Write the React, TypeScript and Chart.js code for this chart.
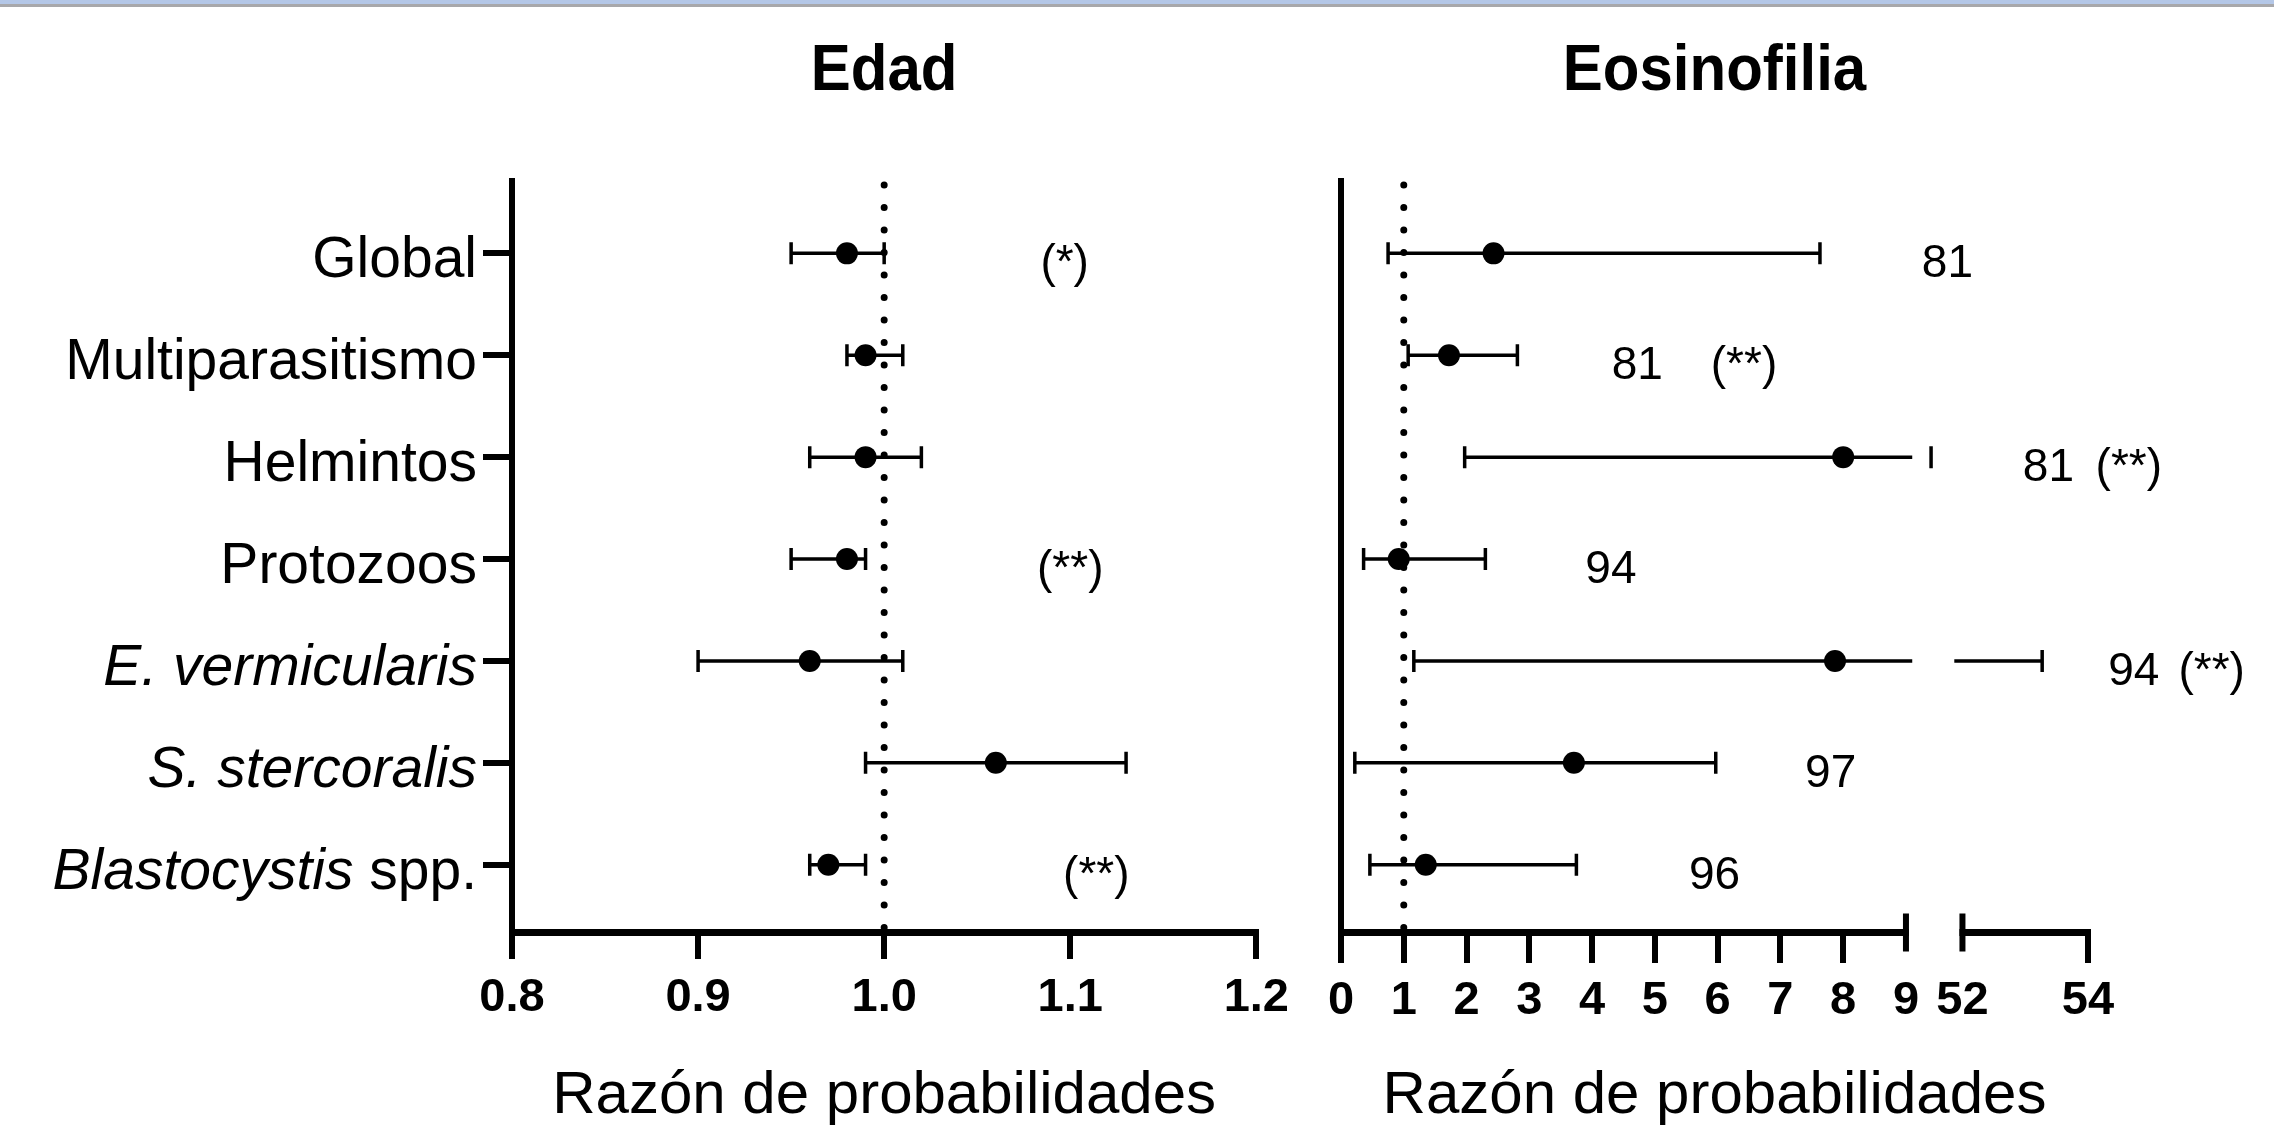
import React, { useEffect, useRef } from 'react';
import { Chart, registerables } from 'chart.js';

Chart.register(...registerables);

const FONT = "'Liberation Sans', Arial, Helvetica, sans-serif";

// ---------- data ----------
const categories = [
  'Global',
  'Multiparasitismo',
  'Helmintos',
  'Protozoos',
  'E. vermicularis',
  'S. stercoralis',
  'Blastocystis spp.',
];
// italic leading part of each category label
const italicParts = ['', '', '', '', 'E. vermicularis', 'S. stercoralis', 'Blastocystis'];

// Panel 1: Edad
const edadTitle = 'Edad';
const edadTicks = [0.8, 0.9, 1.0, 1.1, 1.2];
const edadOR = [0.98, 0.99, 0.99, 0.98, 0.96, 1.06, 0.97];
const edadLo = [0.95, 0.98, 0.96, 0.95, 0.9, 0.99, 0.96];
const edadHi = [1.0, 1.01, 1.02, 0.99, 1.01, 1.13, 0.99];
const edadSig = ['(*)', '', '', '(**)', '', '', '(**)'];
const edadSigAt = [1.097, 0, 0, 1.1, 0, 0, 1.114];

// Panel 2: Eosinofilia
const eosTitle = 'Eosinofilia';
const eosTicks = [0, 1, 2, 3, 4, 5, 6, 7, 8, 9, 52, 54];
const eosOR = [2.43, 1.72, 8.0, 0.92, 7.87, 3.71, 1.35];
const eosLo = [0.75, 1.07, 1.97, 0.36, 1.16, 0.22, 0.46];
const eosHi = [7.63, 2.81, 9.4, 2.3, 53.27, 5.97, 3.75];
const eosN = ['81', '81', '81', '94', '94', '97', '96'];
const eosNAt = [9.66, 4.72, 11.27, 4.3, 12.63, 7.8, 5.95];
const eosSig = ['', '(**)', '(**)', '', '(**)', '', ''];
const eosSigAt = [0, 6.42, 12.55, 0, 13.87, 0, 0];

const xTitle = 'Razón de probabilidades';

// axis break (9 ... 52)
const BREAK_FROM = 9;
const BREAK_TO = 52;
const BREAK_SHIFT = 42.1;
const GAP = [9.1, 9.77];
const toAxis = (v: number) => (v >= BREAK_TO ? v - BREAK_SHIFT : v);

const Y_MIN = -0.71;
const Y_MAX = 6.66;

// ---------- plugins ----------
function refLinePlugin(xVal: number) {
  return {
    id: 'refLine',
    beforeDatasetsDraw(chart: any) {
      const { ctx, chartArea, scales } = chart;
      const x = scales.x.getPixelForValue(xVal);
      ctx.save();
      ctx.strokeStyle = '#000';
      ctx.lineWidth = 7;
      ctx.lineCap = 'round';
      ctx.setLineDash([0.001, 22.5]);
      ctx.beginPath();
      ctx.moveTo(x, chartArea.top + 4);
      ctx.lineTo(x, chartArea.bottom);
      ctx.stroke();
      ctx.restore();
    },
  };
}

function errorBarPlugin(lo: number[], hi: number[], gap: number[] | null) {
  return {
    id: 'errorBars',
    beforeDatasetsDraw(chart: any) {
      const { ctx, scales } = chart;
      const xs = scales.x;
      const ys = scales.y;
      ctx.save();
      ctx.strokeStyle = '#000';
      ctx.lineWidth = 3.5;
      lo.forEach((l, i) => {
        const a = toAxis(l);
        const b = toAxis(hi[i]);
        const y = ys.getPixelForValue(i);
        let segs: number[][] = [[a, b]];
        if (gap && b > gap[0]) {
          segs = [[a, Math.min(b, gap[0])]];
          if (b > gap[1]) segs.push([Math.max(a, gap[1]), b]);
        }
        ctx.beginPath();
        segs.forEach(([s, e]) => {
          ctx.moveTo(xs.getPixelForValue(s), y);
          ctx.lineTo(xs.getPixelForValue(e), y);
        });
        [a, b].forEach((v) => {
          const px = xs.getPixelForValue(v);
          ctx.moveTo(px, y - 11);
          ctx.lineTo(px, y + 11);
        });
        ctx.stroke();
      });
      ctx.restore();
    },
  };
}

function notesPlugin(groups: { texts: string[]; at: number[] }[]) {
  return {
    id: 'notes',
    afterDatasetsDraw(chart: any) {
      const { ctx, scales } = chart;
      ctx.save();
      ctx.fillStyle = '#000';
      ctx.font = `46px ${FONT}`;
      ctx.textAlign = 'center';
      ctx.textBaseline = 'alphabetic';
      groups.forEach((g) => {
        g.texts.forEach((t, i) => {
          if (!t) return;
          const x = scales.x.getPixelForValue(g.at[i]);
          const y = scales.y.getPixelForValue(i) + 24;
          ctx.fillText(t, x, y);
        });
      });
      ctx.restore();
    },
  };
}

function titlePlugin(text: string) {
  return {
    id: 'panelTitle',
    afterDraw(chart: any) {
      const { ctx, chartArea } = chart;
      ctx.save();
      ctx.fillStyle = '#000';
      ctx.font = `bold 60px ${FONT}`;
      ctx.textAlign = 'center';
      ctx.textBaseline = 'alphabetic';
      ctx.translate((chartArea.left + chartArea.right) / 2, 90);
      ctx.scale(1, 1.08);
      ctx.fillText(text, 0, 0);
      ctx.restore();
    },
  };
}

const categoryLabelPlugin = {
  id: 'categoryLabels',
  afterDraw(chart: any) {
    const { ctx, chartArea, scales } = chart;
    const xRight = chartArea.left - 35;
    ctx.save();
    ctx.fillStyle = '#000';
    ctx.textAlign = 'right';
    ctx.textBaseline = 'alphabetic';
    categories.forEach((c, i) => {
      const y = scales.y.getPixelForValue(i) + 24;
      const it = italicParts[i];
      const rest = c.slice(it.length);
      ctx.font = `57px ${FONT}`;
      let w = 0;
      if (rest) {
        ctx.fillText(rest, xRight, y);
        w = ctx.measureText(rest).width;
      }
      if (it) {
        ctx.font = `italic 57px ${FONT}`;
        ctx.fillText(it, xRight - w, y);
      }
    });
    ctx.restore();
  },
};

const brokenAxisPlugin = {
  id: 'brokenAxis',
  afterDraw(chart: any) {
    const { ctx, chartArea, scales } = chart;
    const xs = scales.x;
    const y = chartArea.bottom + 0.5;
    const p9 = xs.getPixelForValue(BREAK_FROM);
    const p52 = xs.getPixelForValue(toAxis(BREAK_TO));
    const pEnd = xs.getPixelForValue(toAxis(eosTicks[eosTicks.length - 1]));
    ctx.save();
    ctx.strokeStyle = '#000';
    ctx.lineWidth = 7;
    ctx.beginPath();
    ctx.moveTo(chartArea.left - 3, y);
    ctx.lineTo(p9 + 3, y);
    ctx.moveTo(p52 - 3, y);
    ctx.lineTo(pEnd + 3, y);
    ctx.stroke();
    ctx.lineWidth = 6;
    ctx.beginPath();
    ctx.moveTo(p9, y - 19);
    ctx.lineTo(p9, y + 19);
    ctx.moveTo(p52, y - 19);
    ctx.lineTo(p52, y + 19);
    ctx.stroke();
    ctx.restore();
  },
};

// ---------- charts ----------
function makeEdad(canvas: HTMLCanvasElement) {
  return new Chart(canvas, {
    type: 'scatter',
    data: {
      datasets: [
        {
          data: edadOR.map((v, i) => ({ x: v, y: i })),
          pointRadius: 11,
          pointHoverRadius: 11,
          pointBorderWidth: 0,
          backgroundColor: '#000',
          borderColor: '#000',
        },
      ],
    },
    options: {
      animation: false,
      responsive: false,
      devicePixelRatio: 1,
      events: [],
      layout: { padding: { top: 181, left: 0, right: 42, bottom: 0 } },
      plugins: { legend: { display: false }, tooltip: { enabled: false }, title: { display: false } },
      scales: {
        x: {
          type: 'linear',
          position: 'bottom',
          min: edadTicks[0],
          max: edadTicks[edadTicks.length - 1],
          afterBuildTicks: (s: any) => {
            s.ticks = edadTicks.map((v) => ({ value: v }));
          },
          afterFit: (s: any) => {
            s.height = 195;
          },
          ticks: {
            autoSkip: false,
            maxRotation: 0,
            minRotation: 0,
            padding: 11,
            color: '#000',
            font: { family: FONT, size: 47, weight: 'bold' },
            callback: (v: any) => Number(v).toFixed(1),
          },
          grid: { display: true, drawOnChartArea: false, drawTicks: true, tickLength: 27, lineWidth: 6, color: '#000' },
          border: { display: true, width: 7, color: '#000' },
          title: {
            display: true,
            text: xTitle,
            color: '#000',
            font: { family: FONT, size: 60, lineHeight: 1 },
            padding: { top: 0, bottom: 1 },
          },
        },
        y: {
          type: 'linear',
          reverse: true,
          min: Y_MIN,
          max: Y_MAX,
          afterBuildTicks: (s: any) => {
            s.ticks = categories.map((_, i) => ({ value: i }));
          },
          afterFit: (s: any) => {
            s.width = 512;
          },
          ticks: { display: false },
          grid: { display: true, drawOnChartArea: false, drawTicks: true, tickLength: 29, lineWidth: 6, color: '#000' },
          border: { display: true, width: 6, color: '#000' },
        },
      },
    } as any,
    plugins: [
      refLinePlugin(1.0),
      errorBarPlugin(edadLo, edadHi, null),
      notesPlugin([{ texts: edadSig, at: edadSigAt }]),
      titlePlugin(edadTitle),
      categoryLabelPlugin,
    ],
  });
}

function makeEos(canvas: HTMLCanvasElement) {
  const hidden = [toAxis(BREAK_FROM), toAxis(BREAK_TO)];
  return new Chart(canvas, {
    type: 'scatter',
    data: {
      datasets: [
        {
          data: eosOR.map((v, i) => ({ x: toAxis(v), y: i })),
          pointRadius: 11,
          pointHoverRadius: 11,
          pointBorderWidth: 0,
          backgroundColor: '#000',
          borderColor: '#000',
        },
      ],
    },
    options: {
      animation: false,
      responsive: false,
      devicePixelRatio: 1,
      events: [],
      layout: { padding: { top: 181, left: 0, right: 186, bottom: 0 } },
      plugins: { legend: { display: false }, tooltip: { enabled: false }, title: { display: false } },
      scales: {
        x: {
          type: 'linear',
          position: 'bottom',
          min: toAxis(eosTicks[0]),
          max: toAxis(eosTicks[eosTicks.length - 1]),
          afterBuildTicks: (s: any) => {
            s.ticks = eosTicks.map((v) => ({ value: toAxis(v) }));
          },
          afterFit: (s: any) => {
            s.height = 195;
          },
          ticks: {
            autoSkip: false,
            maxRotation: 0,
            minRotation: 0,
            padding: 10,
            color: '#000',
            font: { family: FONT, size: 47, weight: 'bold' },
            callback: (_v: any, i: number) => String(eosTicks[i]),
          },
          grid: {
            display: true,
            drawOnChartArea: false,
            drawTicks: true,
            tickLength: 31,
            lineWidth: 6,
            color: (ctx: any) => {
              const v = ctx.tick ? ctx.tick.value : null;
              return v !== null && hidden.some((h) => Math.abs(h - v) < 1e-6) ? 'rgba(0,0,0,0)' : '#000';
            },
          },
          border: { display: false },
          title: {
            display: true,
            text: xTitle,
            color: '#000',
            font: { family: FONT, size: 60, lineHeight: 1 },
            padding: { top: 0, bottom: 1 },
          },
        },
        y: {
          type: 'linear',
          reverse: true,
          min: Y_MIN,
          max: Y_MAX,
          afterBuildTicks: (s: any) => {
            s.ticks = categories.map((_, i) => ({ value: i }));
          },
          afterFit: (s: any) => {
            s.width = 41;
          },
          ticks: { display: false },
          grid: { display: false },
          border: { display: true, width: 6, color: '#000' },
        },
      },
    } as any,
    plugins: [
      refLinePlugin(1),
      errorBarPlugin(eosLo, eosHi, GAP),
      brokenAxisPlugin,
      notesPlugin([
        { texts: eosN, at: eosNAt },
        { texts: eosSig, at: eosSigAt },
      ]),
      titlePlugin(eosTitle),
    ],
  });
}

export default function App() {
  const leftRef = useRef<HTMLCanvasElement>(null);
  const rightRef = useRef<HTMLCanvasElement>(null);

  useEffect(() => {
    const c1 = makeEdad(leftRef.current as HTMLCanvasElement);
    const c2 = makeEos(rightRef.current as HTMLCanvasElement);
    return () => {
      c1.destroy();
      c2.destroy();
    };
  }, []);

  return (
    <div
      style={{
        position: 'fixed',
        left: 0,
        top: 0,
        width: 2274,
        height: 1127,
        background: '#fff',
        overflow: 'hidden',
      }}
    >
      <canvas ref={leftRef} width={1300} height={1127} style={{ position: 'absolute', left: 0, top: 0 }} />
      <canvas ref={rightRef} width={974} height={1127} style={{ position: 'absolute', left: 1300, top: 0 }} />
      <div style={{ position: 'absolute', left: 0, top: 0, width: 2274, height: 4, background: '#b4c7e7' }} />
      <div style={{ position: 'absolute', left: 0, top: 4, width: 2274, height: 3, background: '#a8a8ab' }} />
    </div>
  );
}
